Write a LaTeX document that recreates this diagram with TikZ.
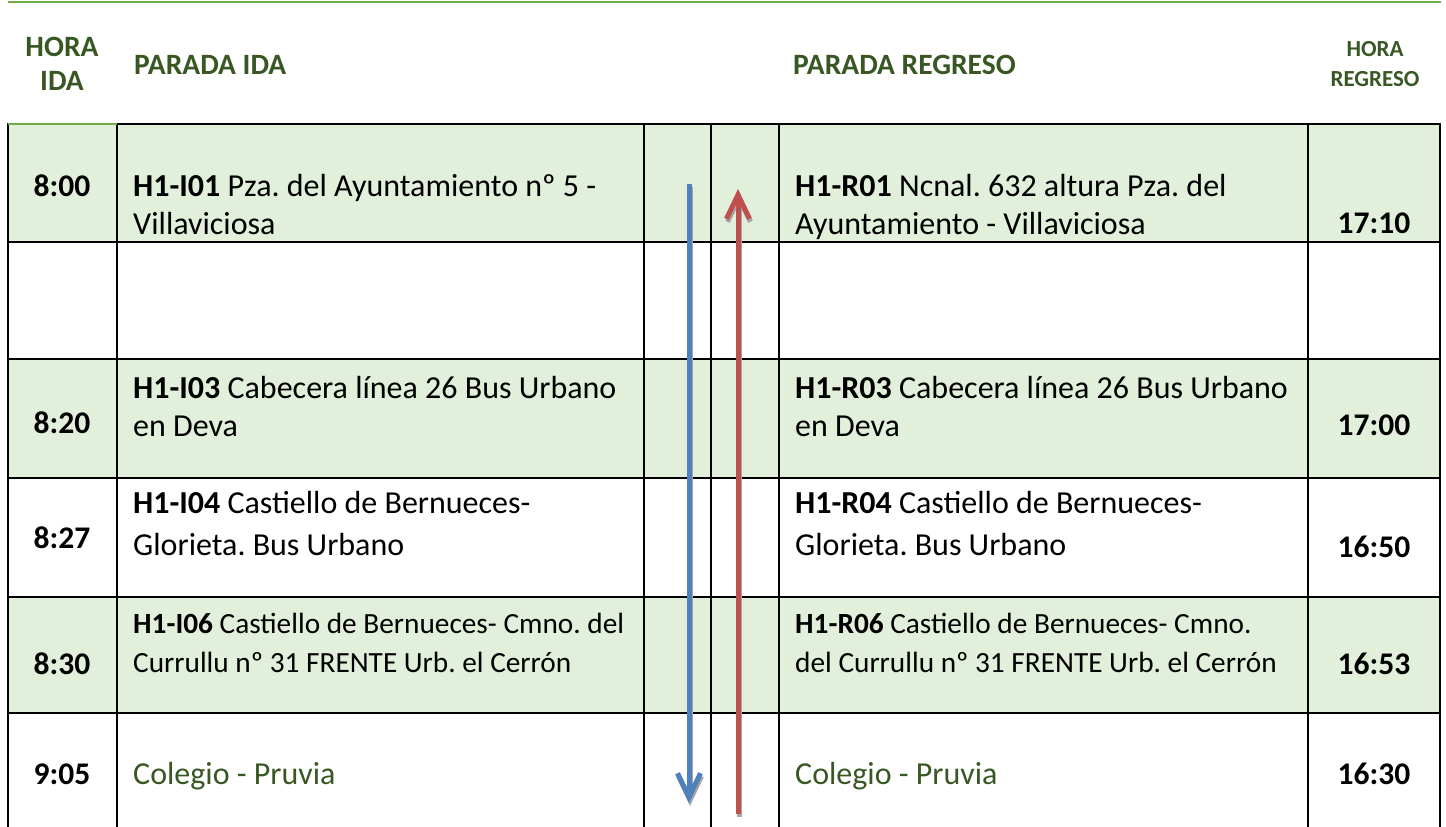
\documentclass[tikz,border=0pt]{standalone}
\usepackage{fontspec}
\setmainfont{Carlito}
\frenchspacing
\usetikzlibrary{arrows.meta}
\definecolor{hdrgreen}{HTML}{385723}
\definecolor{topgreen}{HTML}{70AD47}
\definecolor{rowfill}{HTML}{E2EFDA}
\definecolor{arrowblue}{HTML}{4F81BD}
\definecolor{arrowred}{HTML}{C0504D}
\tikzset{
  hdr/.style={text=hdrgreen, font=\fontsize{29.5}{34}\selectfont\bfseries, inner sep=0pt},
  hdrsmall/.style={text=hdrgreen, font=\fontsize{23}{27}\selectfont\bfseries, inner sep=0pt, anchor=base},
  body/.style={font=\fontsize{32}{38}\selectfont, anchor=base west, inner sep=0pt},
  smallbody/.style={font=\fontsize{29.3}{35}\selectfont, anchor=base west, inner sep=0pt},
  greenbody/.style={body, text=hdrgreen},
  timecell/.style={font=\fontsize{31.5}{36}\selectfont\bfseries, anchor=base, inner sep=0pt},
  gridline/.style={line width=2.5pt, black, line cap=rect},
  arrowshadow/.style={line width=5pt, black!35, -{Straight Barb[length=24pt,width=23pt]}},
  bluearrow/.style={line width=5pt, arrowblue, -{Straight Barb[length=24pt,width=23pt]}},
  redarrow/.style={line width=5pt, arrowred, -{Straight Barb[length=24pt,width=23pt]}},
}
\begin{document}
\begin{tikzpicture}[x=1pt,y=-1pt]
\useasboundingbox (0,0) rectangle (1446,827);
% shaded rows
\fill[rowfill] (8,124) rectangle (1440,242);
\fill[rowfill] (8,359) rectangle (1440,478);
\fill[rowfill] (8,597) rectangle (1440,713);
% top rule
\draw[topgreen, line width=2.5pt] (8,2) -- (1441,2);
% grid
\foreach \y in {242,359,478,597,713} \draw[gridline] (8,\y) -- (1440,\y);
\draw[gridline] (117,124) -- (1440,124);
\foreach \x in {8,117,644,711,779,1308,1440} \draw[gridline] (\x,124) -- (\x,827);
\draw[topgreen, line width=2pt] (8,124) -- (117,124);

% headers
\node[hdr, anchor=base] (hi1) at (62,56) {HORA};
\node[hdr, anchor=base] (hi2) at (62,90) {IDA};
\node[hdr, anchor=base west] (pida) at (134,74) {PARADA IDA};
\node[hdr, anchor=base west] (preg) at (793,74) {PARADA REGRESO};
\node[hdrsmall] (hr1) at (1375,56) {HORA};
\node[hdrsmall] (hr2) at (1375,86) {REGRESO};

% row 1
\node[timecell] (t1) at (62,196) {8:00};
\node[body] (l1a) at (133,196) {\textbf{H1-I01} Pza. del Ayuntamiento nº 5 -};
\node[body] (l1b) at (133,234) {Villaviciosa};
\node[body] (r1a) at (795,196) {\textbf{H1-R01} Ncnal. 632 altura Pza. del};
\node[body] (r1b) at (795,234) {Ayuntamiento - Villaviciosa};
\node[timecell] (u1) at (1374,233) {17:10};

% row 3
\node[timecell] (t3) at (62,433) {8:20};
\node[body] (l3a) at (133,398) {\textbf{H1-I03} Cabecera línea 26 Bus Urbano};
\node[body] (l3b) at (133,436) {en Deva};
\node[body] (r3a) at (795,398) {\textbf{H1-R03} Cabecera línea 26 Bus Urbano};
\node[body] (r3b) at (795,436) {en Deva};
\node[timecell] (u3) at (1374,435) {17:00};

% row 4
\node[timecell] (t4) at (62,548) {8:27};
\node[body] (l4a) at (133,513) {\textbf{H1-I04} Castiello de Bernueces-};
\node[body] (l4b) at (133,555) {Glorieta. Bus Urbano};
\node[body] (r4a) at (795,513) {\textbf{H1-R04} Castiello de Bernueces-};
\node[body] (r4b) at (795,555) {Glorieta. Bus Urbano};
\node[timecell] (u4) at (1374,557) {16:50};

% row 5
\node[timecell] (t5) at (62,674) {8:30};
\node[smallbody] (l5a) at (133,633) {\textbf{H1-I06} Castiello de Bernueces- Cmno. del};
\node[smallbody] (l5b) at (133,672) {Currullu nº 31 FRENTE Urb. el Cerrón};
\node[smallbody] (r5a) at (795,633) {\textbf{H1-R06} Castiello de Bernueces- Cmno.};
\node[smallbody] (r5b) at (795,672) {del Currullu nº 31 FRENTE Urb. el Cerrón};
\node[timecell] (u5) at (1374,674) {16:53};

% row 6
\node[timecell] (t6) at (62,784) {9:05};
\node[greenbody] (l6) at (133,784) {Colegio - Pruvia};
\node[greenbody] (r6) at (795,784) {Colegio - Pruvia};
\node[timecell] (u6) at (1374,784) {16:30};

% arrows
\coordinate (bstart) at (689,184);
\coordinate (bend) at (689,803);
\coordinate (rstart) at (738,814);
\coordinate (rend) at (738,189);
\draw[arrowshadow] ([shift={(1,3)}]bstart) -- ([shift={(1,3)}]bend);
\draw[arrowshadow] ([shift={(1,3)}]rstart) -- ([shift={(1,3)}]rend);
\draw[bluearrow] (bstart) -- (bend);
\draw[redarrow] (rstart) -- (rend);
\end{tikzpicture}
\end{document}
